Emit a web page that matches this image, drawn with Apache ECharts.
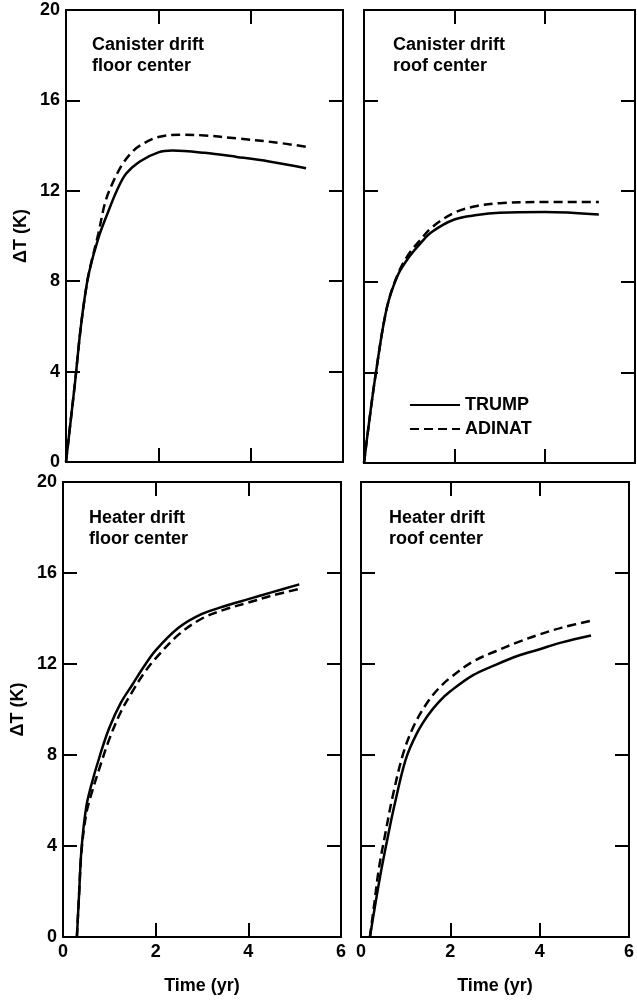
<!DOCTYPE html>
<html>
<head>
<meta charset="utf-8">
<script src="https://cdn.jsdelivr.net/npm/echarts@6/dist/echarts.min.js"></script>
<style>
html,body{margin:0;padding:0;background:#fff;}
#chart{width:637px;height:1000px;}
</style>
</head>
<body>
<div id="chart"></div>
<script>
// ---- data (time in yr, ΔT in K) ----
const xTicks = [0, 2, 4, 6];
const yTicks = [0, 4, 8, 12, 16, 20];
const seriesNames = ['TRUMP', 'ADINAT'];
const panelLabels = ['Canister drift\nfloor center', 'Canister drift\nroof center', 'Heater drift\nfloor center', 'Heater drift\nroof center'];

const canFloorTrump = [[0,0],[0.1,1.8],[0.2,3.6],[0.3,5.6],[0.4,7.2],[0.5,8.4],[0.7,9.9],[0.9,11.0],[1.1,12.0],[1.3,12.75],[1.6,13.3],[2.0,13.7],[2.3,13.78],[3.0,13.68],[3.7,13.5],[4.4,13.3],[5.2,13.0]];
const canFloorAdinat = [[0,0],[0.1,1.8],[0.2,3.6],[0.3,5.6],[0.4,7.2],[0.5,8.4],[0.7,10.1],[0.85,11.5],[1.0,12.3],[1.2,13.1],[1.4,13.65],[1.6,14.0],[2.0,14.38],[2.5,14.48],[3.0,14.45],[3.7,14.32],[4.5,14.15],[5.2,13.95]];
const canRoofTrump = [[0,0],[0.1,1.6],[0.25,3.8],[0.5,6.8],[0.75,8.3],[1.0,9.1],[1.25,9.7],[1.5,10.2],[2.0,10.75],[2.5,10.95],[3.0,11.05],[4.0,11.08],[5.2,10.97]];
const canRoofAdinat = [[0,0],[0.1,1.6],[0.25,3.8],[0.5,6.8],[0.75,8.35],[1.0,9.25],[1.25,9.85],[1.5,10.4],[2.0,11.05],[2.5,11.35],[3.0,11.47],[4.0,11.52],[5.2,11.52]];
const heatFloorTrump = [[0.3,0],[0.35,2.0],[0.4,3.9],[0.5,5.7],[0.6,6.6],[0.8,8.0],[1.0,9.2],[1.25,10.3],[1.5,11.1],[1.75,11.9],[2.0,12.6],[2.5,13.6],[3.0,14.2],[3.5,14.55],[4.0,14.85],[4.5,15.15],[5.1,15.5]];
const heatFloorAdinat = [[0.3,0],[0.35,2.0],[0.4,3.8],[0.5,5.4],[0.6,6.2],[0.8,7.5],[1.0,8.7],[1.25,9.9],[1.5,10.8],[1.75,11.6],[2.0,12.25],[2.5,13.3],[3.0,14.0],[3.5,14.4],[4.0,14.7],[4.5,15.0],[5.1,15.3]];
const heatRoofTrump = [[0.2,0],[0.3,1.2],[0.45,2.9],[0.6,4.4],[0.75,5.8],[1.0,7.8],[1.25,8.95],[1.5,9.75],[1.75,10.35],[2.0,10.8],[2.5,11.5],[3.0,11.95],[3.5,12.35],[4.0,12.65],[4.5,12.95],[5.15,13.25]];
const heatRoofAdinat = [[0.2,0],[0.3,1.5],[0.4,3.0],[0.55,4.6],[0.7,6.1],[0.95,8.1],[1.2,9.35],[1.5,10.35],[1.75,10.95],[2.0,11.4],[2.5,12.1],[3.0,12.55],[3.5,12.95],[4.0,13.3],[4.5,13.6],[5.15,13.9]];

// ---- layout ----
const FONT = '"Liberation Sans", Arial, Helvetica, sans-serif';
const panels = [
  {grid:{left:66, top:10, width:277, height:452}, label:{left:87, top:30}, trump:canFloorTrump, adinat:canFloorAdinat, xLab:false, yLab:true},
  {grid:{left:364, top:10, width:271, height:453}, label:{left:388, top:30}, trump:canRoofTrump, adinat:canRoofAdinat, xLab:false, yLab:false},
  {grid:{left:63, top:482, width:278, height:455}, label:{left:84, top:503}, trump:heatFloorTrump, adinat:heatFloorAdinat, xLab:true, yLab:true},
  {grid:{left:361, top:482, width:271, height:455}, label:{left:384, top:503}, trump:heatRoofTrump, adinat:heatRoofAdinat, xLab:true, yLab:false}
];

const tickStyle = {show:true, inside:true, length:14, lineStyle:{color:'#000', width:2}};
const lineStyleAxis = {show:true, onZero:false, lineStyle:{color:'#000', width:2}};
const labStyle = (show) => ({show:show, color:'#000', fontSize:18, fontWeight:'bold', fontFamily:FONT, margin:6});

const grids = [], xAxes = [], yAxes = [], series = [], titles = [];
panels.forEach((p, i) => {
  grids.push(Object.assign({show:true, borderColor:'#000', borderWidth:2, backgroundColor:'#fff'}, p.grid));
  const xBase = {type:'value', gridIndex:i, min:xTicks[0], max:xTicks[xTicks.length-1], interval:xTicks[1]-xTicks[0], splitLine:{show:false}, axisLine:lineStyleAxis, axisTick:tickStyle};
  const yBase = {type:'value', gridIndex:i, min:yTicks[0], max:yTicks[yTicks.length-1], interval:yTicks[1]-yTicks[0], splitLine:{show:false}, axisLine:lineStyleAxis, axisTick:tickStyle};
  xAxes.push(Object.assign({}, xBase, {position:'bottom', axisLabel:labStyle(p.xLab),
    name:p.xLab ? 'Time (yr)' : '', nameLocation:'middle', nameGap:40,
    nameTextStyle:{color:'#000', fontSize:18, fontWeight:'bold', fontFamily:FONT}}));
  xAxes.push(Object.assign({}, xBase, {position:'top', axisLabel:{show:false}}));
  yAxes.push(Object.assign({}, yBase, {position:'left', axisLabel:labStyle(p.yLab),
    name:p.yLab ? 'ΔT (K)' : '', nameLocation:'middle', nameGap:36, nameRotate:90,
    nameTextStyle:{color:'#000', fontSize:18, fontWeight:'bold', fontFamily:FONT}}));
  yAxes.push(Object.assign({}, yBase, {position:'right', axisLabel:{show:false}}));
  series.push({name:seriesNames[0], type:'line', xAxisIndex:2*i, yAxisIndex:2*i, data:p.trump,
    symbol:'none', smooth:0.35, lineStyle:{color:'#000', width:2.5, type:'solid'}, itemStyle:{color:'#000'}});
  series.push({name:seriesNames[1], type:'line', xAxisIndex:2*i, yAxisIndex:2*i, data:p.adinat,
    symbol:'none', smooth:0.35, lineStyle:{color:'#000', width:2.5, type:[9,5]}, itemStyle:{color:'#000'}});
  titles.push({text:panelLabels[i], left:p.label.left, top:p.label.top,
    textStyle:{color:'#000', fontSize:18, fontWeight:'bold', fontFamily:FONT, lineHeight:21}});
});

const chart = echarts.init(document.getElementById('chart'), null, {renderer:'canvas'});
chart.setOption({
  backgroundColor:'#fff',
  animation:false,
  title:titles,
  legend:{data:seriesNames, orient:'vertical', left:404, top:391, itemWidth:50, itemHeight:14, itemGap:6,
    itemStyle:{opacity:0},
    textStyle:{color:'#000', fontSize:18, fontWeight:'bold', fontFamily:FONT}},
  grid:grids,
  xAxis:xAxes,
  yAxis:yAxes,
  series:series
});
</script>
</body>
</html>
